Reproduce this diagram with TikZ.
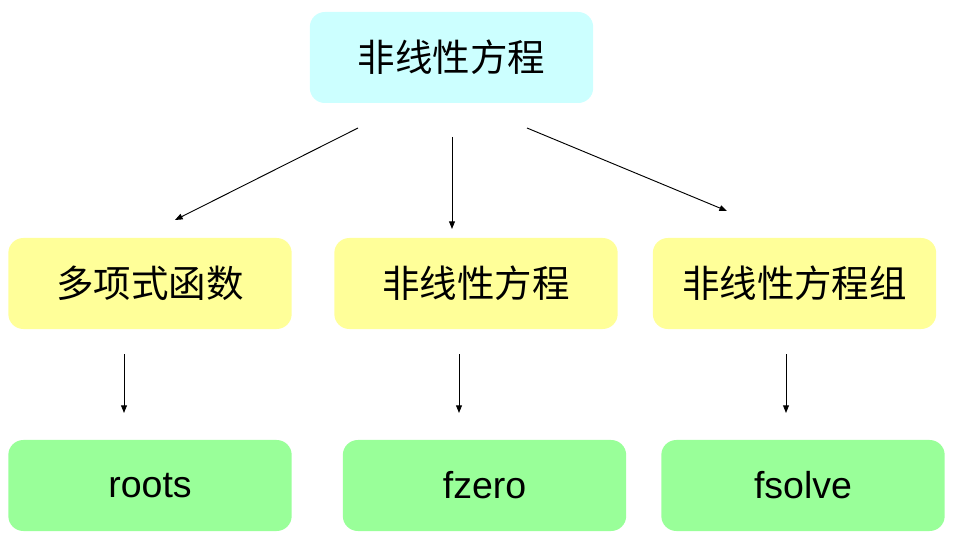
\documentclass[tikz,border=0pt]{standalone}
\usepackage{fontspec}
\setmainfont{Liberation Sans}
\newfontfamily\cjk{Noto Sans CJK SC}
\usetikzlibrary{arrows.meta, positioning}
\definecolor{topcyan}{HTML}{CCFFFF}
\definecolor{midyellow}{HTML}{FFFF99}
\definecolor{lowgreen}{HTML}{99FF99}

\tikzset{
  box/.style={rounded corners=0.45cm, minimum width=8.5cm, minimum height=2.73cm,
    inner sep=0pt, font=\fontsize{32}{38}\selectfont},
  topbox/.style={box, fill=topcyan, font=\cjk\fontsize{32}{38}\selectfont},
  midbox/.style={box, fill=midyellow, font=\cjk\fontsize{32}{38}\selectfont},
  lowbox/.style={box, fill=lowgreen},
  link/.style={-{Triangle[length=6.5pt,width=5pt]}, line width=0.8pt}
}

\begin{document}
\begin{tikzpicture}[x=0.03cm, y=-0.03cm]
\useasboundingbox (0,0) rectangle (953,542);

% top
\node[topbox] (eq) at (451.5,57.5) {非线性方程};

% middle row
\node[midbox] (poly) at (150,283.5) {多项式函数};
\node[midbox] (nonlin) at (476,283.5) {非线性方程};
\node[midbox] (system) at (794.5,283.5) {非线性方程组};

% bottom row
\node[lowbox] (roots) at (150,485.5) {roots};
\node[lowbox] (fzero) at (484.5,485.5) {fzero};
\node[lowbox] (fsolve) at (803,485.5) {fsolve};

% arrow ends
\coordinate (a1) at (358,128);  \coordinate (b1) at (175,220);
\coordinate (a2) at (452,137);  \coordinate (b2) at (452,229);
\coordinate (a3) at (527,128);  \coordinate (b3) at (727,211);
\coordinate (c1) at (124,354);  \coordinate (d1) at (124,413);
\coordinate (c2) at (459,354);  \coordinate (d2) at (459,413);
\coordinate (c3) at (786,354);  \coordinate (d3) at (786,413);

\draw[link] (a1) -- (b1);
\draw[link] (a2) -- (b2);
\draw[link] (a3) -- (b3);
\draw[link] (c1) -- (d1);
\draw[link] (c2) -- (d2);
\draw[link] (c3) -- (d3);
\end{tikzpicture}
\end{document}
